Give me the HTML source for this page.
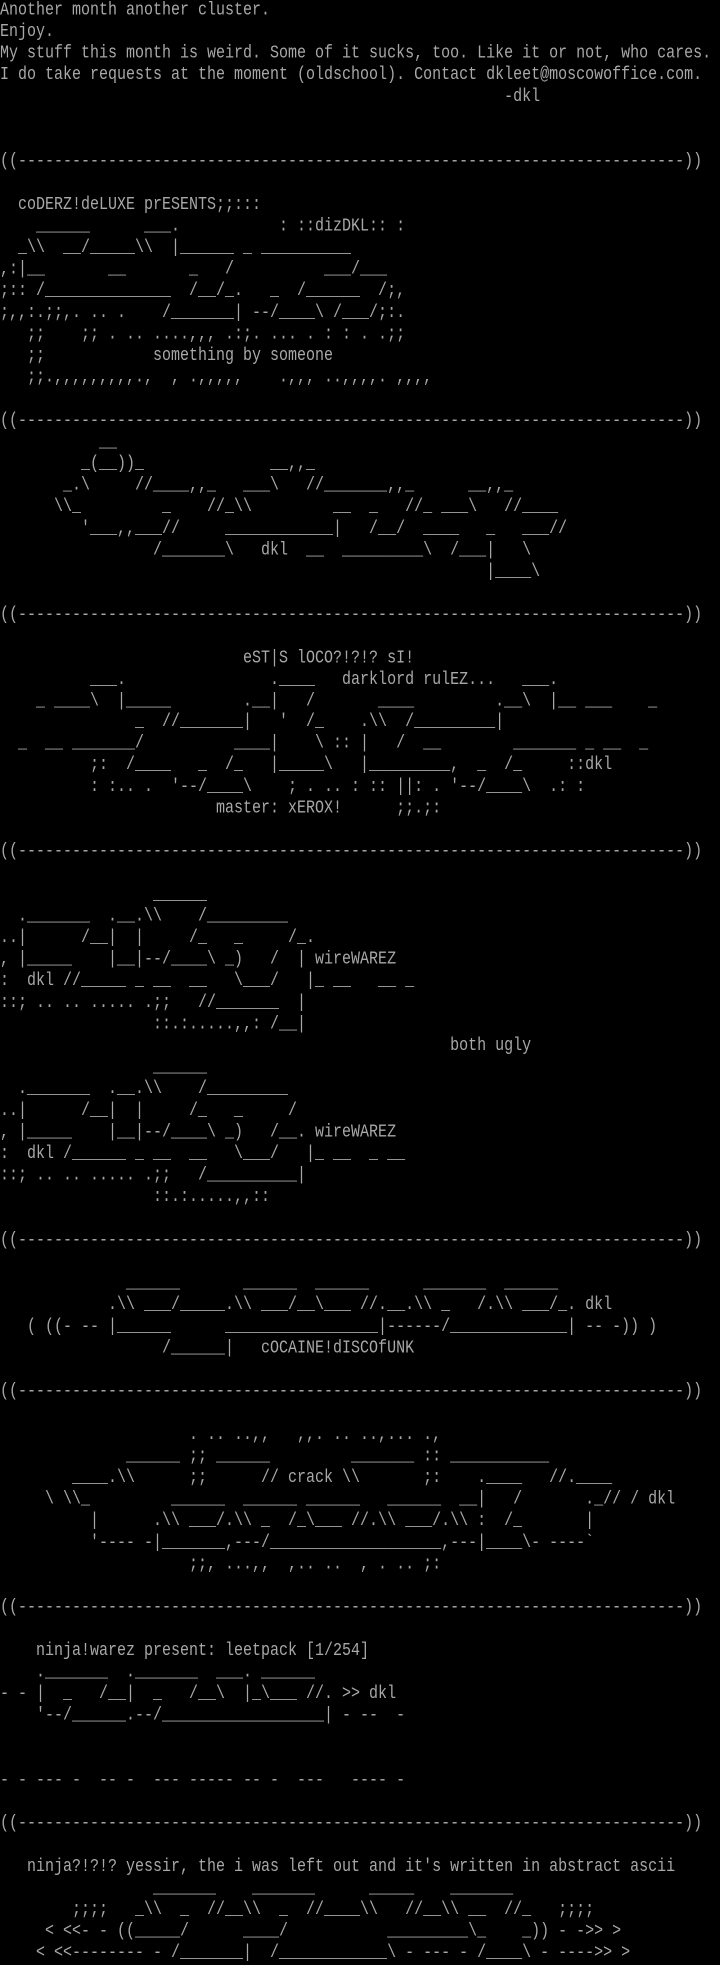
<!DOCTYPE html>
<html><head><meta charset="utf-8"><style>
html,body{margin:0;padding:0;background:#000;width:720px;height:1965px;overflow:hidden}
pre{margin:0;padding:0;color:#a8a8a8;font-family:"Liberation Mono","DejaVu Sans Mono",monospace;font-size:15px;line-height:17.992px;transform:scaleY(1.2);transform-origin:0 0;white-space:pre}
</style></head><body><pre>Another month another cluster.
Enjoy.
My stuff this month is weird. Some of it sucks, too. Like it or not, who cares.
I do take requests at the moment (oldschool). Contact dkleet@moscowoffice.com.
                                                        -dkl


((--------------------------------------------------------------------------))

  coDERZ!deLUXE prESENTS;;:::
    ______      ___.           : ::dizDKL:: :
  _\\  __/_____\\  |______ _ __________
,:|__       __       _   /          ___/___
;:: /______________  /__/_.   _  /______  /;,
;,,:.;;,. .. .    /_______| --/____\ /___/;:.
   ;;    ;; . .. ....,,, .:;. ... . : : . .;;
   ;;            something by someone
   ;;.,,,,,,,,,.,  , .,,,,,    .,,, ..,,,,. ,,,,

((--------------------------------------------------------------------------))
           __
         _(__))_              __,,_
       _.\     //____,,_   ___\   //_______,,_      __,,_
      \\_         _    //_\\         __  _   //_ ___\   //____
         '___,,___//     ____________|   /__/  ____   _   ___//
                 /_______\   dkl  __  _________\  /___|   \
                                                      |____\

((--------------------------------------------------------------------------))

                           eST|S lOCO?!?!? sI!
          ___.                .____   darklord rulEZ...   ___.
    _ ____\  |_____        .__|   /       ____         .__\  |__ ___    _
               _  //_______|   '  /_    .\\  /_________|
  _  __ _______/          ____|    \ :: |   /  __        _______ _ __  _
          ;:  /____   _  /_   |_____\   |_________,  _  /_     ::dkl
          : :.. .  '--/____\    ; . .. : :: ||: . '--/____\  .: :
                        master: xEROX!      ;;.;:

((--------------------------------------------------------------------------))

                 ______
  ._______  .__.\\    /_________
..|      /__|  |     /_   _     /_.
, |_____    |__|--/____\ _)   /  | wireWAREZ
:  dkl //_____ _ __  __   \___/   |_ __   __ _
::; .. .. ..... .;;   //_______  |
                 ::.:.....,,: /__|
                                                  both ugly
                 ______
  ._______  .__.\\    /_________
..|      /__|  |     /_   _     /
, |_____    |__|--/____\ _)   /__. wireWAREZ
:  dkl /______ _ __  __   \___/   |_ __  _ __
::; .. .. ..... .;;   /__________|
                 ::.:.....,,::

((--------------------------------------------------------------------------))

              ______       ______  ______      _______  ______
            .\\ ___/_____.\\ ___/__\___ //.__.\\ _   /.\\ ___/_. dkl
   ( ((- -- |______      _________________|------/_____________| -- -)) )
                  /______|   cOCAINE!dISCOfUNK

((--------------------------------------------------------------------------))

                     . .. ..,,   ,,. .. ..,... .,
              ______ ;; ______         _______ :: ___________
        ____.\\      ;;      // crack \\       ;:    .____   //.____
     \ \\_         ______  ______ ______   ______  __|   /       ._// / dkl
          |      .\\ ___/.\\ _  /_\___ //.\\ ___/.\\ :  /_       |
          '---- -|_______,---/___________________,---|____\- ----`
                     ;;, ...,,  ,.. ..  , . .. ;:

((--------------------------------------------------------------------------))

    ninja!warez present: leetpack [1/254]
    ._______  ._______  ___. ______
- - |  _   /__|  _   /__\  |_\___ //. &gt;&gt; dkl
    '--/______.--/__________________| - --  -


- - --- -  -- -  --- ----- -- -  ---   ---- -

((--------------------------------------------------------------------------))

   ninja?!?!? yessir, the i was left out and it's written in abstract ascii
                 _______    _______      _____    _______
        ;;;;   _\\  _  //__\\  _  //____\\   //__\\ __  //_   ;;;;
     &lt; &lt;&lt;- - ((_____/      ____/           _________\_    _)) - -&gt;&gt; &gt;
    &lt; &lt;&lt;-------- - /_______|  /____________\ - --- - /____\ - ----&gt;&gt; &gt;
</pre></body></html>
